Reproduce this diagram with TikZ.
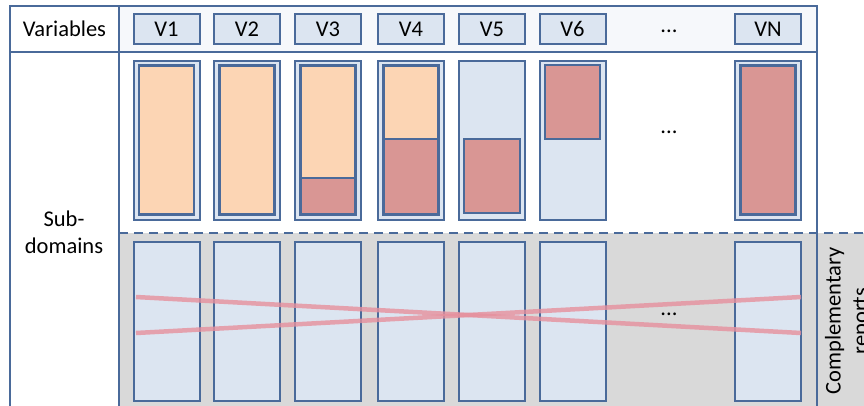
\documentclass[tikz,border=0pt]{standalone}
\usepackage{fontspec}
\setmainfont{Carlito}
\definecolor{bord}{HTML}{4A6A9A}
\definecolor{lblue}{HTML}{DCE5F1}
\definecolor{orng}{HTML}{FCD5B4}
\definecolor{redf}{HTML}{D99694}
\definecolor{grayf}{HTML}{D9D9D9}
\definecolor{headf}{HTML}{F6F8FB}
\definecolor{pinkl}{HTML}{E6909D}
\tikzset{
  lbl/.style={font=\fontsize{22.5}{27}\selectfont, text=black, inner sep=0pt, align=center},
  varbox/.style={draw=bord, line width=2pt, fill=lblue, minimum width=66pt, minimum height=30pt, inner sep=0pt, font=\fontsize{22.5}{27}\selectfont},
  colbox/.style={draw=bord, line width=2pt, fill=lblue, minimum width=66pt, minimum height=159pt, inner sep=0pt},
  inbox/.style={draw=bord, line width=2.2pt, inner sep=0pt, minimum width=55pt},
  xline/.style={draw=pinkl, line width=4.5pt, opacity=0.8},
  frame/.style={draw=bord, line width=2pt},
}
\begin{document}
\begin{tikzpicture}[x=1pt,y=-1pt]
\useasboundingbox (0,0) rectangle (864,405);
\clip (0,0) rectangle (864,405);
% backgrounds
\fill[white] (0,0) rectangle (864,405);
\fill[headf] (119,6) rectangle (817,52);
\fill[grayf] (119,233) rectangle (864,410);
% frame
\draw[frame] (10,412) -- (10,6) -- (817,6) -- (817,412);
\draw[frame] (10,52) -- (817,52);
\draw[frame] (119,6) -- (119,412);
\draw[frame, dashed, dash pattern=on 9pt off 6pt] (119,233) -- (864,233);
% labels
\node[lbl] (varlbl) at (64.5,29) {Variables};
\node[lbl] (sublbl) at (64,232) {Sub-\\domains};
\node[lbl, rotate=90] (complbl) at (848,321) {Complementary\\reports};
% variable boxes
\node[varbox] (v1) at (166.5,29) {V1};
\node[varbox] (v2) at (247,29) {V2};
\node[varbox] (v3) at (328,29) {V3};
\node[varbox] (v4) at (411,29) {V4};
\node[varbox] (v5) at (492,29) {V5};
\node[varbox] (v6) at (572.5,29) {V6};
\node[lbl] (vdots) at (669,31) {...};
\node[varbox] (vn) at (768,29) {VN};
% sub-domain boxes
\node[colbox] (s1) at (166.5,140.5) {};
\node[colbox] (s2) at (247,140.5) {};
\node[colbox] (s3) at (328,140.5) {};
\node[colbox] (s4) at (411,140.5) {};
\node[colbox] (s5) at (492,140.5) {};
\node[colbox] (s6) at (572.5,140.5) {};
\node[colbox] (sn) at (768,140.5) {};
\node[lbl] (sdots) at (669,132) {...};
% inner boxes
\node[inbox, fill=orng, minimum height=149pt] (i1) at (166.5,140) {};
\node[inbox, fill=orng, minimum height=149pt] (i2) at (247,140) {};
\node[inbox, fill=orng, minimum height=149pt] (i3) at (328,140) {};
\node[inbox, fill=redf, minimum height=36.5pt] (r3) at (328,196.25) {};
\node[inbox, fill=orng, minimum height=149pt] (i4) at (411,140) {};
\node[inbox, fill=redf, minimum height=75.5pt] (r4) at (411,176.75) {};
\node[inbox, fill=redf, minimum height=74pt, minimum width=56pt] (r5) at (492,176) {};
\node[inbox, fill=redf, minimum height=74pt] (r6) at (572.5,102) {};
\node[inbox, fill=redf, minimum height=149pt] (rn) at (768,140) {};
% lower boxes
\node[colbox] (c1) at (166.5,321.5) {};
\node[colbox] (c2) at (247,321.5) {};
\node[colbox] (c3) at (328,321.5) {};
\node[colbox] (c4) at (411,321.5) {};
\node[colbox] (c5) at (492,321.5) {};
\node[colbox] (c6) at (572.5,321.5) {};
\node[colbox] (cn) at (768,321.5) {};
\node[lbl] (cdots) at (669,314) {...};
% crossing lines
\coordinate (la) at (136,297);
\coordinate (lb) at (801,333);
\coordinate (lc) at (136,333);
\coordinate (ld) at (801,297);
\draw[xline] (la) -- (lb);
\draw[xline] (lc) -- (ld);
\end{tikzpicture}
\end{document}
